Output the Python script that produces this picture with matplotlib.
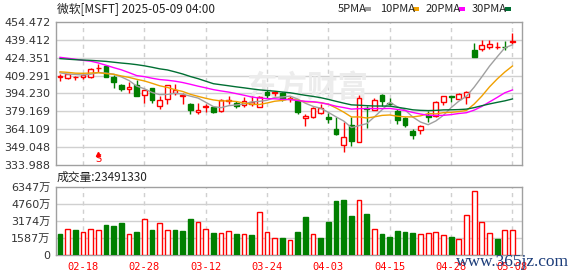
import matplotlib
matplotlib.use("Agg")
import matplotlib.pyplot as plt
import matplotlib.transforms as mtransforms
from matplotlib.patches import Rectangle
import numpy as np
import pandas as pd

# daily bars, 2025-02-12 .. 2025-05-08
dates = ["02-12", "02-13", "02-14", "02-18", "02-19", "02-20", "02-21", "02-24", "02-25", "02-26",
         "02-27", "02-28", "03-03", "03-04", "03-05", "03-06", "03-07", "03-10", "03-11", "03-12",
         "03-13", "03-14", "03-17", "03-18", "03-19", "03-20", "03-21", "03-24", "03-25", "03-26",
         "03-27", "03-28", "03-31", "04-01", "04-02", "04-03", "04-04", "04-07", "04-08", "04-09",
         "04-10", "04-11", "04-14", "04-15", "04-16", "04-17", "04-21", "04-22", "04-23", "04-24",
         "04-25", "04-28", "04-29", "04-30", "05-01", "05-02", "05-05", "05-06", "05-07", "05-08"]
opens = [408.2, 407.0, 407.8, 408.0, 407.9, 415.3, 417.3, 408.5, 401.3, 398.0,
         401.3, 392.7, 398.8, 383.4, 389.5, 394.3, 392.3, 385.8, 379.0, 383.0,
         383.1, 379.8, 388.0, 386.6, 384.9, 385.6, 383.2, 395.8, 394.8, 395.0,
         390.0, 388.1, 373.5, 374.7, 378.0, 374.8, 364.1, 350.8, 368.1, 353.5,
         382.1, 380.6, 393.2, 386.6, 379.8, 374.0, 362.8, 363.4, 376.1, 375.0,
         387.0, 391.9, 390.0, 391.5, 431.1, 431.7, 433.5, 433.0, 433.8, 437.5]
highs = [410.8, 411.0, 408.9, 410.6, 415.5, 419.3, 418.1, 409.4, 401.9, 403.6,
         405.7, 397.6, 398.8, 392.5, 401.6, 402.2, 394.8, 386.4, 386.0, 385.2,
         383.8, 390.0, 392.4, 388.0, 391.0, 391.8, 392.0, 397.2, 396.5, 395.3,
         392.2, 389.1, 377.1, 382.9, 385.1, 377.5, 374.6, 370.5, 374.6, 393.2,
         383.9, 390.2, 393.9, 390.2, 381.5, 374.8, 364.5, 367.8, 379.2, 388.3,
         391.9, 392.5, 395.0, 396.5, 437.0, 439.4, 439.5, 437.2, 438.1, 445.0]
lows = [404.4, 406.2, 405.9, 406.5, 407.6, 412.5, 407.9, 399.2, 396.5, 394.3,
        392.2, 386.6, 386.2, 381.0, 385.8, 392.7, 385.5, 377.2, 376.9, 379.0,
        377.4, 378.6, 385.7, 382.0, 382.6, 383.3, 383.0, 390.8, 392.5, 388.2,
        387.3, 376.9, 367.2, 373.2, 376.6, 369.4, 359.5, 344.8, 350.3, 353.1,
        365.0, 380.0, 383.8, 384.4, 368.5, 366.1, 355.7, 359.9, 370.2, 374.4,
        384.8, 386.9, 389.5, 385.0, 424.9, 429.9, 432.1, 431.7, 431.1, 436.0]
closes = [409.0, 410.5, 408.4, 409.6, 414.8, 416.1, 408.2, 404.0, 397.9, 399.7,
          392.5, 397.0, 388.5, 388.6, 401.0, 396.9, 393.3, 380.2, 380.5, 383.3,
          378.8, 388.6, 388.7, 383.5, 387.8, 386.8, 391.3, 393.1, 395.2, 390.0,
          390.6, 378.8, 375.4, 382.2, 382.1, 373.1, 359.8, 357.9, 354.6, 390.5,
          381.4, 388.5, 387.8, 385.7, 371.6, 367.8, 359.1, 366.8, 374.4, 387.3,
          391.9, 391.2, 394.0, 395.3, 425.4, 435.3, 436.2, 433.3, 433.35, 438.2]
# volume in 万 shares
volume = [1960, 2400, 2333, 2118, 2400, 2305, 2800, 2707, 2987, 1932,
          2147, 3332, 2333, 2959, 2305, 2333, 2240, 3360, 3052, 2400,
          2053, 2025, 2212, 1960, 1960, 1867, 3985, 2118, 1559, 1559,
          1400, 2147, 3577, 1960, 1587, 3080, 5040, 5133, 3670, 5133,
          3827, 2400, 1960, 1680, 2240, 2147, 2053, 1960, 2053, 2178,
          1867, 1680, 1493, 3733, 5974, 3052, 2053, 1493, 2305, 2349]
# closes before the first bar (12-30 .. 02-11), needed for the moving averages
prior_close = [424.83, 421.50, 418.58, 423.35, 427.85, 422.37, 424.56, 418.95, 417.19, 415.67,
               426.31, 424.58, 429.03, 428.50, 446.20, 446.71, 444.06, 434.56, 447.20, 442.33,
               414.99, 415.06, 410.92, 412.37, 413.29, 415.82, 409.75, 412.22, 411.44]

price_ticks = [333.988, 349.048, 364.109, 379.169, 394.230, 409.291, 424.351, 439.412, 454.472]
vol_ticks = [0, 1587, 3174, 4760, 6347]
label_days = ["02-18", "02-28", "03-12", "03-24", "04-03", "04-15", "04-28", "05-08"]
ma_periods = [5, 10, 20, 30]
ma_colors = ["#a0a0a0", "#f0a000", "#ff00ff", "#006f33"]

red = "#ff0000"
green = "#007f00"
grid_c = "#d0d0d0"
frame_c = "#a0a0a0"
cjk = ["Noto Sans CJK SC", "DejaVu Sans"]

W, H = 578, 276
fig = plt.figure(figsize=(W / 100, H / 100), dpi=100)
fig.patch.set_facecolor("white")
ax = fig.add_axes([56 / W, 1 - 165 / H, 466 / W, 143 / H])
ax2 = fig.add_axes([56 / W, 1 - 255 / H, 466 / W, 68 / H])

x = np.arange(len(dates))
o = np.array(opens)
c = np.array(closes)
up = c >= o
cols = [red if u else green for u in up]
faces = ["white" if u else green for u in up]

all_close = pd.Series(prior_close + closes)
for n, col in zip(ma_periods, ma_colors):
    ma = all_close.rolling(n).mean().iloc[len(prior_close):].to_numpy()
    ax.plot(x, ma, color=col, linewidth=1.0, zorder=4)

ax.vlines(x, lows, highs, colors=cols, linewidth=1.0, zorder=2)
body_lo = np.minimum(o, c)
body_h = np.maximum(np.abs(c - o), 0.15)
ax.bar(x, body_h, bottom=body_lo, width=0.62, color=faces, edgecolor=cols, linewidth=1.0, zorder=3)

# volume colours follow close vs previous close
prev = np.array([prior_close[-1]] + closes[:-1])
vup = c >= prev
vcols = [red if u else green for u in vup]
vfaces = ["white" if u else green for u in vup]
ax2.bar(x, volume, width=0.62, color=vfaces, edgecolor=vcols, linewidth=1.0, zorder=3)

label_idx = [dates.index(d) for d in label_days]
for a, lim, ticks in [(ax, (price_ticks[0], price_ticks[-1]), price_ticks),
                      (ax2, (vol_ticks[0], vol_ticks[-1]), vol_ticks)]:
    a.set_xlim(-0.52, len(dates) + 0.24)
    a.set_ylim(*lim)
    a.set_yticks(ticks)
    for t in ticks[1:-1]:
        a.axhline(t, color=grid_c, linewidth=1.0, zorder=0.5)
    for i in label_idx:
        a.axvline(i, color=grid_c, linewidth=1.0, linestyle=(0, (3, 3)), zorder=0.5)
    for s in a.spines.values():
        s.set_color(frame_c)
        s.set_linewidth(1.0)
    a.tick_params(axis="both", length=0, pad=4, labelsize=8, colors="#333333")

ax.set_xticks([])
ax.set_yticklabels([f"{v:.3f}" for v in price_ticks], family="DejaVu Sans")
ax2.set_yticklabels(["0"] + [f"{v}万" for v in vol_ticks[1:]], family=["DejaVu Sans", "Noto Sans CJK SC"])
ax2.set_xticks(label_idx)
ax2.set_xticklabels(label_days, color=red, fontsize=7.5, family="DejaVu Sans Mono")
ax2.tick_params(axis="x", pad=5)

# watermark
ax.text(0.54, 0.54, "东方财富", transform=ax.transAxes, fontsize=22, color="#ececec",
        family=cjk, weight="bold", ha="center", va="center", zorder=1)

# dividend marker
tr = mtransforms.blended_transform_factory(ax.transData, ax.transAxes)
ax.text(dates.index("02-20"), 0.005, "S", transform=tr, color=red, fontsize=7,
        ha="center", va="bottom", family="DejaVu Sans")
ax.plot([dates.index("02-20")], [0.075], transform=tr, marker="^", color=red,
        markersize=3, clip_on=False)

fig.text(57 / W, 1 - 9 / H, "微软[MSFT] 2025-05-09 04:00", fontsize=8.5, family=cjk,
         color="#222222", va="center", ha="left")
fig.text(57 / W, 1 - 177 / H, "成交量:23491330", fontsize=8.5, family=cjk,
         color="#222222", va="center", ha="left")

leg_x = [338, 380, 426, 472]
mark_x = [365, 413, 459, 505]
for lx, mx, n, col in zip(leg_x, mark_x, ma_periods, ma_colors):
    fig.text(lx / W, 1 - 9 / H, f"{n}PMA", fontsize=8, family=cjk, color="#222222",
             va="center", ha="left")
    fig.add_artist(Rectangle((mx / W, 1 - 10.5 / H), 6 / W, 3 / H, transform=fig.transFigure,
                             facecolor=col, edgecolor="none"))

fig.text(456 / W, 1 - 262 / H, "www.365jz.com", fontsize=12.5, family="Liberation Serif",
         color="#1c3d7a", va="center", ha="left", zorder=10)

fig.savefig("out.png", dpi=100)
